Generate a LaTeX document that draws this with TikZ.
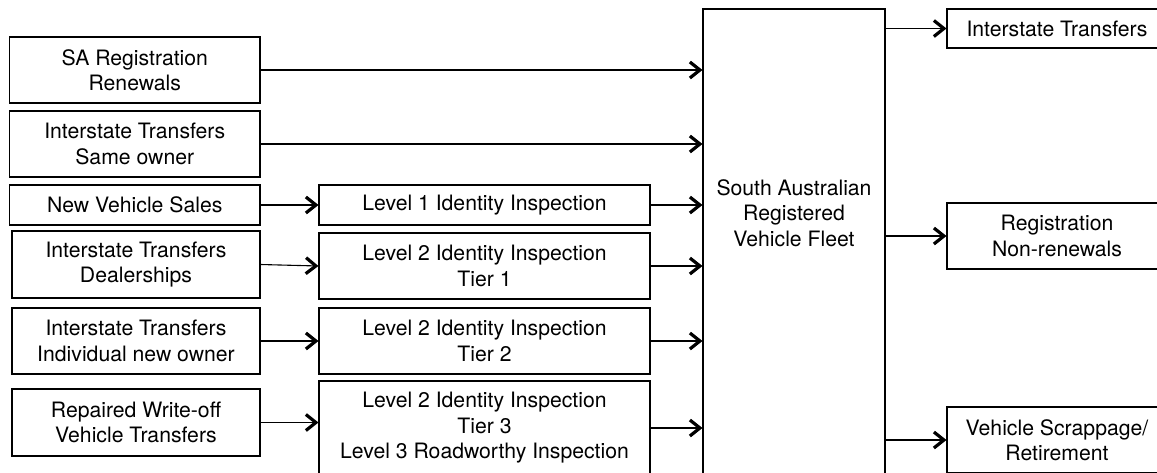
\documentclass[tikz,border=0pt]{standalone}
\usepackage{fontspec}
\setmainfont{TeX Gyre Heros}
\usetikzlibrary{arrows.meta}

\begin{document}
\begin{tikzpicture}[x=1pt,y=-1pt]
\tikzstyle{every node}=[draw,line width=1.1pt,align=center,inner sep=0pt,font=\fontsize{21.2}{25.5}\selectfont];
\tikzstyle{flow}=[line width=1.1pt,-{Straight Barb[length=10pt,width=16pt,line width'=3.2pt]}];
\useasboundingbox (0,0) rectangle (1157,472);
\clip (0,0) rectangle (1157,472);

% sources
\node[minimum width=250.5,minimum height=66] (renew) at (134.75,70) {SA Registration\\Renewals};
\node[minimum width=250.5,minimum height=66] (same) at (134.75,144) {Interstate Transfers\\Same owner};
\node[minimum width=250.5,minimum height=40] (sales) at (134.75,205) {New Vehicle Sales};
\node[minimum width=248,minimum height=67] (deal) at (136,264.5) {Interstate Transfers\\Dealerships};
\node[minimum width=248,minimum height=66] (indiv) at (136,341) {Interstate Transfers\\Individual new owner};
\node[minimum width=248,minimum height=67] (wreck) at (136,422.5) {Repaired Write-off\\Vehicle Transfers};

% inspections
\node[minimum width=331,minimum height=40] (lvla) at (484.5,205) {Level 1 Identity Inspection};
\node[minimum width=331,minimum height=66] (tiera) at (484.5,266) {Level 2 Identity Inspection\\Tier 1};
\node[minimum width=331,minimum height=66] (tierb) at (484.5,341) {Level 2 Identity Inspection\\Tier 2};
\node[minimum width=331,minimum height=94] (tierc) at (484.5,428) {Level 2 Identity Inspection\\Tier 3\\Level 3 Roadworthy Inspection};

% fleet
\node[minimum width=182,minimum height=480] (fleet) at (794,249) {};
\node[draw=none] (fleetlabel) at (794,213) {South Australian\\Registered\\Vehicle Fleet};

% outflows
\node[minimum width=220,minimum height=39] (inter) at (1057,28.5) {Interstate Transfers};
\node[minimum width=220,minimum height=66] (lapse) at (1057,236) {Registration\\Non-renewals};
\node[minimum width=220,minimum height=66] (scrap) at (1057,440) {Vehicle Scrappage/\\Retirement};

\draw[flow] (renew.east) -- (renew.east -| fleet.west);
\draw[flow] (same.east) -- (same.east -| fleet.west);
\draw[flow] (sales) -- (lvla);
\draw[flow] (deal.east) -- (tiera.west);
\draw[flow] (indiv) -- (tierb);
\draw[flow] (wreck.east) -- (wreck.east -| tierc.west);
\draw[flow] (lvla.east) -- (lvla.east -| fleet.west);
\draw[flow] (tiera.east) -- (tiera.east -| fleet.west);
\draw[flow] (tierb.east) -- (tierb.east -| fleet.west);
\draw[flow] (tierc.east) -- (tierc.east -| fleet.west);
\draw[flow] (inter.west -| fleet.east) -- (inter.west);
\draw[flow] (lapse.west -| fleet.east) -- (lapse.west);
\draw[flow] (scrap.west -| fleet.east) -- (scrap.west);
\end{tikzpicture}
\end{document}
